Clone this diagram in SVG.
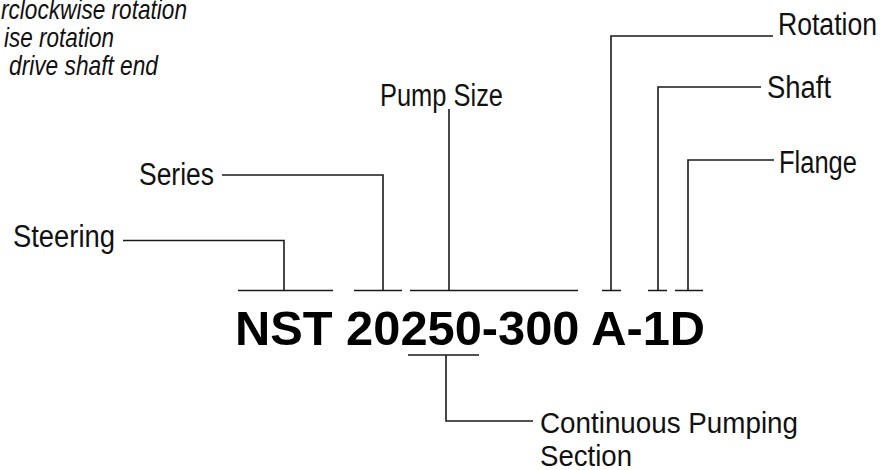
<svg xmlns="http://www.w3.org/2000/svg" width="883" height="470" viewBox="0 0 883 470">
<style>
.lbl{font-family:"Liberation Sans",Arial,sans-serif;font-size:31px;fill:#111;}
.note{font-family:"Liberation Sans",Arial,sans-serif;font-size:28px;font-style:italic;fill:#111;}
.code{font-family:"Liberation Sans",Arial,sans-serif;font-size:48px;font-weight:bold;fill:#000;}
.ln{fill:none;stroke:#1a1a1a;stroke-width:1.6;}
</style>
<rect width="883" height="470" fill="#fff"/>
<g id="notes">
<text class="note" x="1" y="19" textLength="186" lengthAdjust="spacingAndGlyphs">rclockwise rotation</text>
<text class="note" x="4" y="47" textLength="110" lengthAdjust="spacingAndGlyphs">ise rotation</text>
<text class="note" x="9" y="75" textLength="149" lengthAdjust="spacingAndGlyphs">drive shaft end</text>
</g>
<g id="code"><text class="code" x="235" y="345" textLength="470" lengthAdjust="spacingAndGlyphs">NST 20250-300 A-1D</text></g>
<g id="steering"><text class="lbl" x="13" y="247" textLength="102" lengthAdjust="spacingAndGlyphs">Steering</text></g>
<g id="series"><text class="lbl" x="139" y="185" textLength="75" lengthAdjust="spacingAndGlyphs">Series</text></g>
<g id="pumpsize"><text class="lbl" x="380" y="106" textLength="123" lengthAdjust="spacingAndGlyphs">Pump Size</text></g>
<g id="rotation"><text class="lbl" x="778" y="35" textLength="99" lengthAdjust="spacingAndGlyphs">Rotation</text></g>
<g id="shaft"><text class="lbl" x="767" y="98" textLength="64" lengthAdjust="spacingAndGlyphs">Shaft</text></g>
<g id="flange"><text class="lbl" x="779" y="173" textLength="78" lengthAdjust="spacingAndGlyphs">Flange</text></g>
<g id="continuous">
<text class="lbl" x="540" y="433" textLength="258" lengthAdjust="spacingAndGlyphs" style="font-size:30px">Continuous Pumping</text>
<text class="lbl" x="540" y="466" textLength="92" lengthAdjust="spacingAndGlyphs" style="font-size:30px">Section</text>
</g>
<g id="connectors">
<path class="ln" d="M238 290.5H333M354 290.5H402M410 290.5H578M602 290.5H621M648 290.5H667M675 290.5H703"/>
<path class="ln" d="M123 240.5H284V290.5"/>
<path class="ln" d="M222 175H383V290.5"/>
<path class="ln" d="M449 109V290.5"/>
<path class="ln" d="M773 36H611V290.5"/>
<path class="ln" d="M761 87H658V290.5"/>
<path class="ln" d="M774 160H688V290.5"/>
<path class="ln" d="M408 355H479M446 355V421H533"/>
</g>
</svg>
